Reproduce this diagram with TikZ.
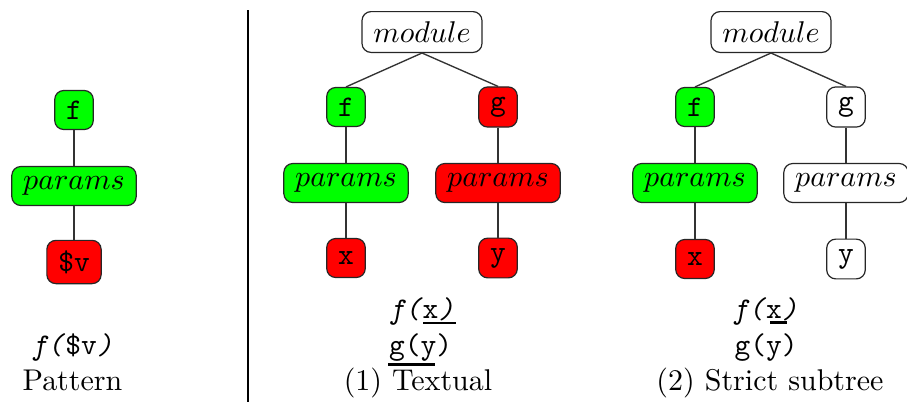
\documentclass[tikz,border=0pt]{standalone}
\usepackage{fontspec}
\begin{document}
\begin{tikzpicture}[x=0.33333pt,y=-0.33333pt,
  tbox/.style={draw=black!85, line width=0.4pt, rounded corners=3pt,
    inner xsep=3.8pt, inner ysep=3.33pt, minimum height=13pt},
  ok/.style={tbox, fill=green},
  bad/.style={tbox, fill=red},
  plain/.style={tbox, fill=white},
  link/.style={draw=black!80, line width=0.45pt},
  caption/.style={anchor=base, inner sep=0pt},
  uline/.style={line width=0.8pt}]
\useasboundingbox (0,0) rectangle (907,402);

% ---- pattern ----
\node[ok]  (pf) at (74,110) {\texttt{f}};
\node[ok]  (pp) at (74,186) {$params$};
\node[bad] (pv) at (74,262) {\texttt{\$v}};
\draw[link] (pf) -- (pp);
\draw[link] (pp) -- (pv);
\node[caption] (pc1) at (72,354) {\texttt{\textit{f(}\$v\textit{)}}};
\node[caption] (pc2) at (72.5,390) {Pattern};

% ---- separator ----
\draw[line width=0.8pt] (248,10) -- (248,402);

% ---- (1) textual ----
\node[plain] (am) at (422,32) {$module$};
\node[ok]  (af) at (346,107) {\texttt{f}};
\node[bad] (ag) at (498,107) {\texttt{g}};
\node[ok]  (afp) at (346,183) {$params$};
\node[bad] (agp) at (498,183) {$params$};
\node[bad] (ax) at (346,258) {\texttt{x}};
\node[bad] (ay) at (498,258) {\texttt{y}};
\draw[link] (am.south) -- (af.north);
\draw[link] (am.south) -- (ag.north);
\draw[link] (af) -- (afp);
\draw[link] (afp) -- (ax);
\draw[link] (ag) -- (agp);
\draw[link] (agp) -- (ay);
\node[caption] (at1) at (421.5,318) {\texttt{\textit{f(}x\textit{)}}};
\node[caption] (at2) at (420.5,354) {\texttt{g(y)}};
\node[caption] (at3) at (418,390) {(1) Textual};
\draw[uline] (423,323) -- (456,323);
\draw[uline] (388,364.5) -- (435,364.5);

% ---- (2) strict subtree ----
\node[plain] (bm) at (771,32) {$module$};
\node[ok]    (bf) at (695,107) {\texttt{f}};
\node[plain] (bg) at (846,107) {\texttt{g}};
\node[ok]    (bfp) at (695,183) {$params$};
\node[plain] (bgp) at (846,183) {$params$};
\node[bad]   (bx) at (695,259) {\texttt{x}};
\node[plain] (by) at (846,259) {\texttt{y}};
\draw[link] (bm.south) -- (bf.north);
\draw[link] (bm.south) -- (bg.north);
\draw[link] (bf) -- (bfp);
\draw[link] (bfp) -- (bx);
\draw[link] (bg) -- (bgp);
\draw[link] (bgp) -- (by);
\node[caption] (bt1) at (765,318) {\texttt{\textit{f(}x\textit{)}}};
\node[caption] (bt2) at (766,354) {\texttt{g(y)}};
\node[caption] (bt3) at (770,390) {(2) Strict subtree};
\draw[uline] (770,322.5) -- (787,322.5);
\end{tikzpicture}
\end{document}
